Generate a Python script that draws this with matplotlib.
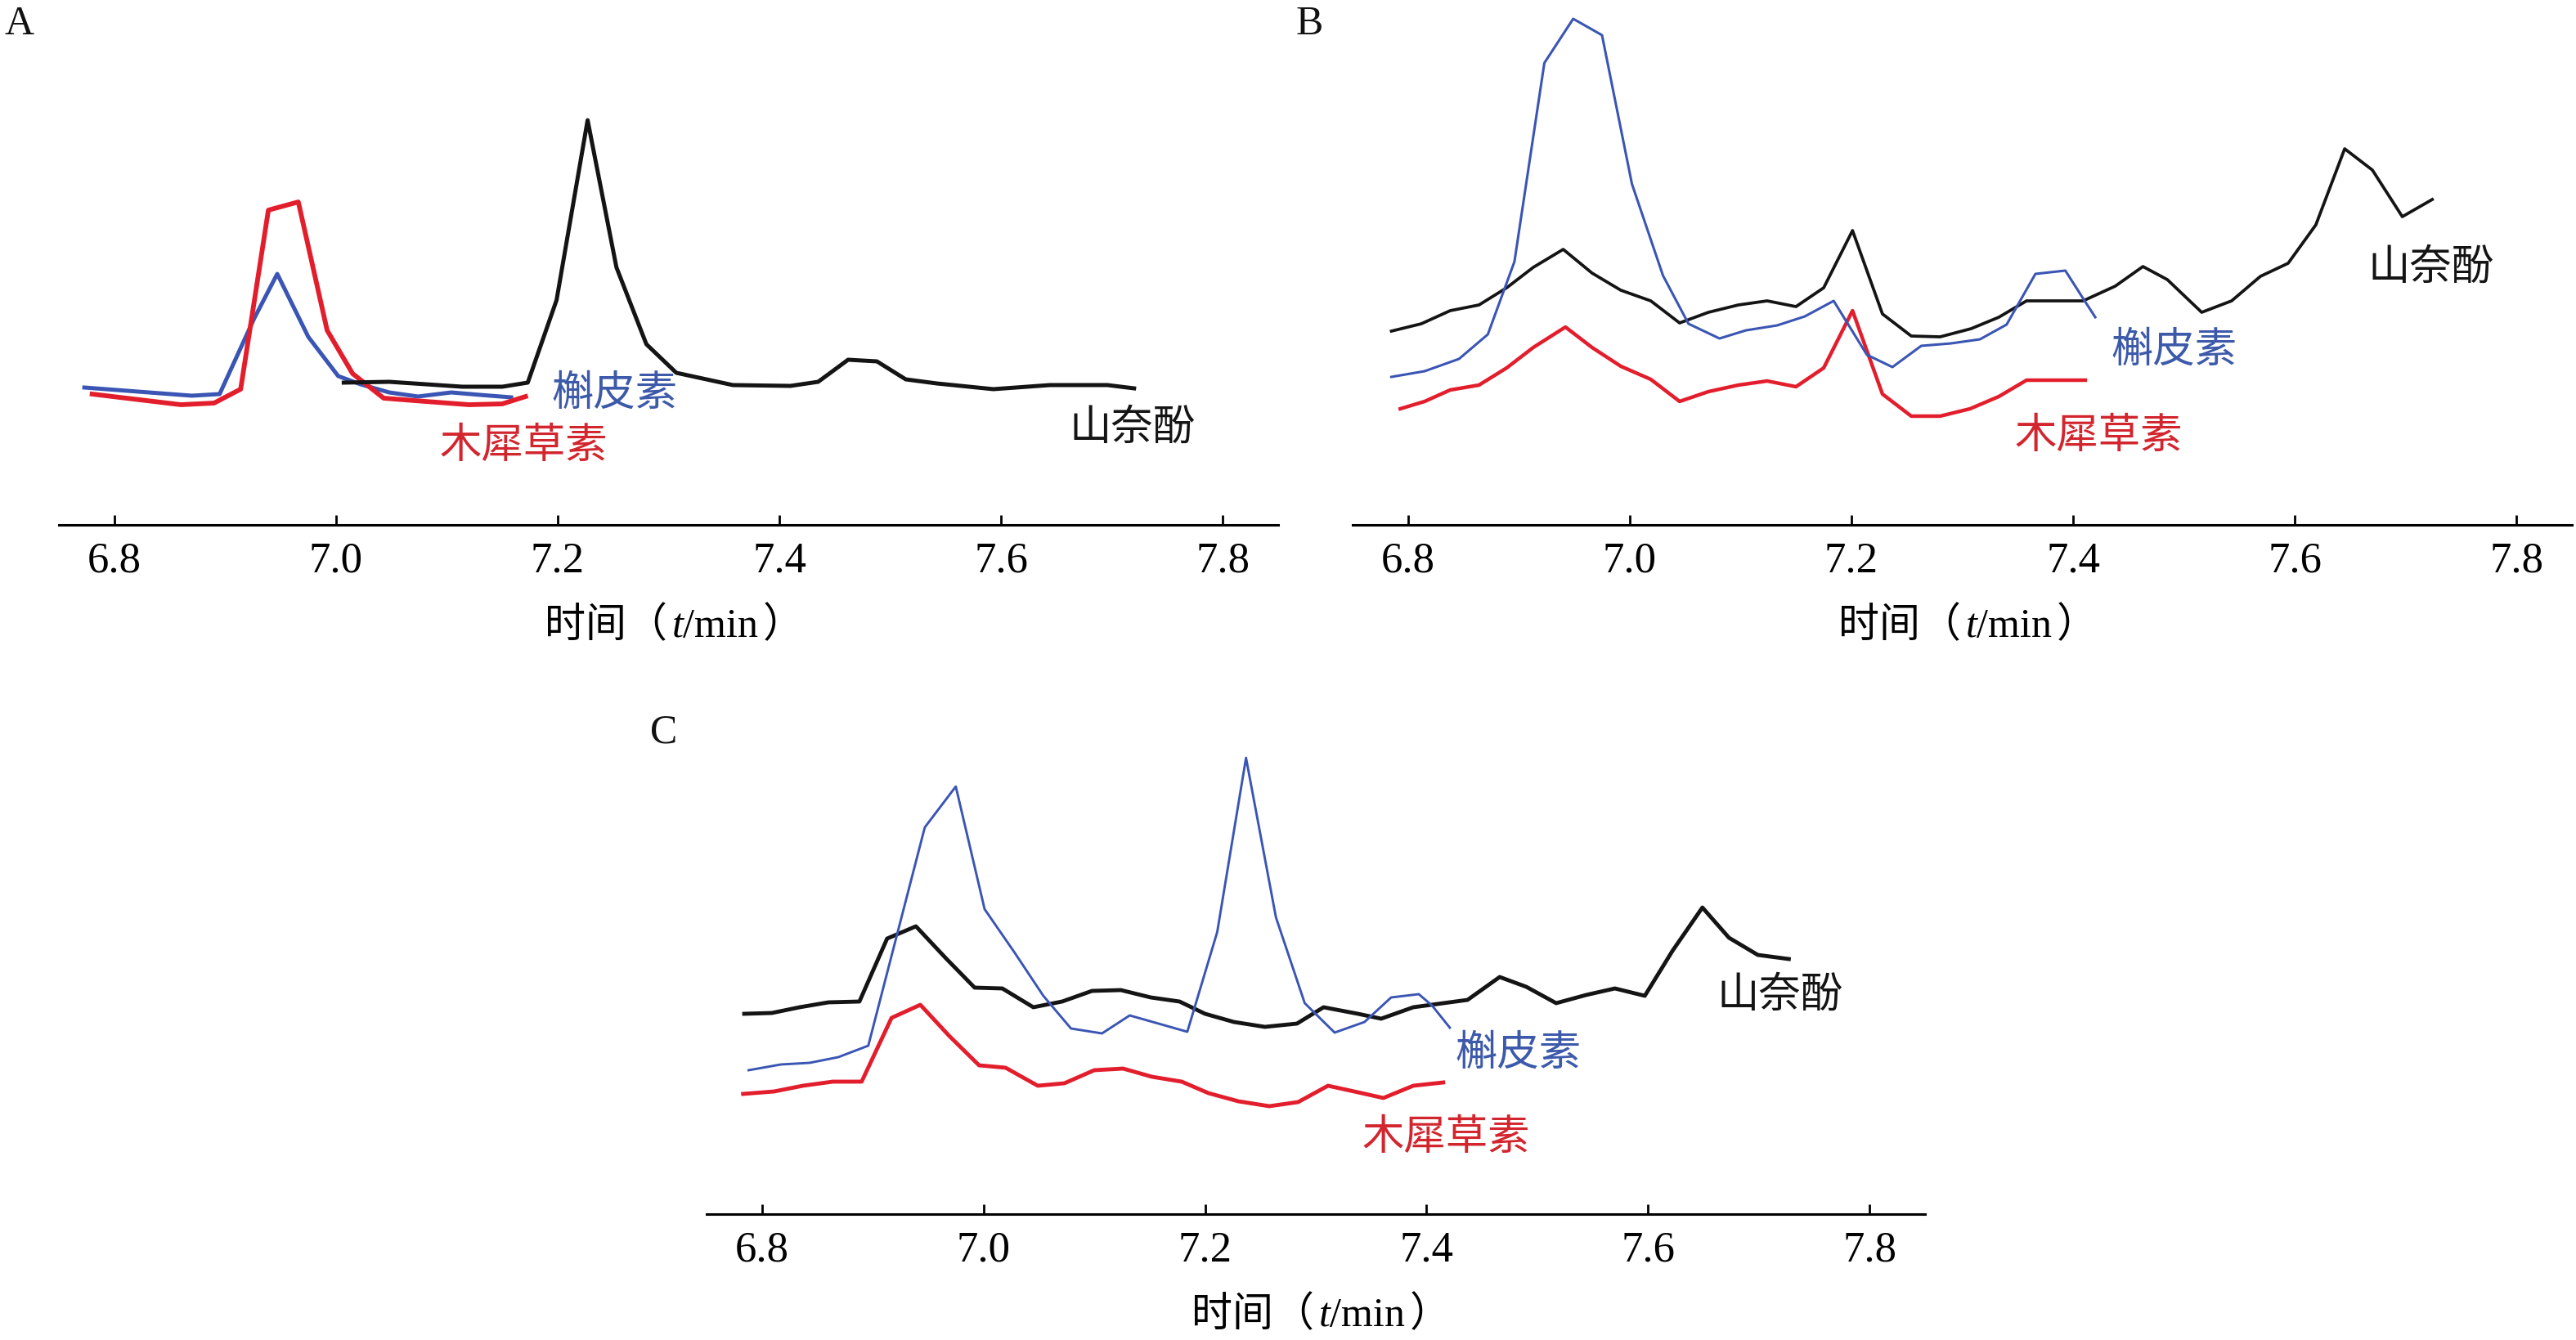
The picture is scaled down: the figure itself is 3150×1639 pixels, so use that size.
import matplotlib
matplotlib.use("Agg")
import matplotlib.pyplot as plt

plt.rcParams['font.family'] = ['Liberation Serif', 'Noto Sans CJK SC']
plt.rcParams['mathtext.fontset'] = 'custom'
plt.rcParams['mathtext.rm'] = 'Liberation Serif'
plt.rcParams['mathtext.it'] = 'Liberation Serif:italic'

# ---- data (retention time in min, signal in arbitrary units) ----
xticks = [6.8, 7.0, 7.2, 7.4, 7.6, 7.8]

# panel A
a_blue_t = [6.773, 6.870, 6.895, 6.926, 6.947, 6.975, 7.002, 7.022, 7.048, 7.074, 7.104, 7.130, 7.158]
a_blue_y = [168, 158, 160, 252, 307, 230, 182, 172, 162, 157, 162, 159, 156]
a_red_t = [6.780, 6.860, 6.890, 6.914, 6.939, 6.966, 6.992, 7.015, 7.043, 7.071, 7.120, 7.150, 7.171]
a_red_y = [160, 147, 149, 166, 385, 395, 238, 185, 155, 152, 147, 148, 157]
a_black_t = [7.007, 7.048, 7.114, 7.150, 7.173, 7.199, 7.227, 7.253, 7.280, 7.307, 7.358,
             7.410, 7.435, 7.462, 7.488, 7.514, 7.542, 7.593, 7.644, 7.696, 7.720]
a_black_y = [174, 175, 169, 169, 174, 275, 495, 315, 221, 186, 171,
             170, 175, 202, 200, 178, 173, 166, 171, 171, 167]

# panel B
b_black_t = [6.785, 6.812, 6.838, 6.864, 6.889, 6.913, 6.940, 6.966, 6.992, 7.019, 7.045, 7.071,
             7.098, 7.124, 7.150, 7.175, 7.201, 7.228, 7.254, 7.280, 7.308, 7.333, 7.358, 7.409,
             7.438, 7.463, 7.485, 7.516, 7.543, 7.569, 7.594, 7.619, 7.645, 7.670, 7.697, 7.724]
b_black_y = [237, 246, 262, 269, 290, 315, 337, 308, 287, 274, 247, 260,
             269, 274, 267, 290, 360, 258, 231, 230, 240, 254, 274, 274,
             292, 316, 300, 260, 274, 304, 320, 367, 460, 434, 377, 398]
b_blue_t = [6.785, 6.815, 6.846, 6.872, 6.896, 6.923, 6.949, 6.975, 7.002, 7.030, 7.053, 7.081, 7.105,
            7.133, 7.158, 7.184, 7.214, 7.237, 7.263, 7.290, 7.316, 7.340, 7.366, 7.393, 7.409, 7.420]
b_blue_y = [181, 188, 203, 233, 322, 565, 619, 599, 417, 305, 246, 228, 238,
            244, 255, 274, 208, 193, 219, 222, 227, 245, 307, 311, 277, 254]
b_red_t = [6.793, 6.815, 6.838, 6.864, 6.889, 6.913, 6.942, 6.966, 6.992, 7.019, 7.045, 7.071,
           7.098, 7.124, 7.150, 7.175, 7.201, 7.228, 7.254, 7.280, 7.307, 7.333, 7.358, 7.411]
b_red_y = [142, 151, 165, 171, 192, 217, 242, 217, 194, 178, 151, 163,
           171, 176, 169, 192, 262, 160, 133, 133, 142, 157, 177, 177]

# panel C
c_black_t = [6.784, 6.809, 6.834, 6.860, 6.888, 6.913, 6.939, 6.966, 6.992, 7.017, 7.045, 7.071,
             7.098, 7.124, 7.151, 7.177, 7.200, 7.226, 7.254, 7.283, 7.307, 7.338, 7.359, 7.388,
             7.437, 7.466, 7.490, 7.517, 7.544, 7.570, 7.597, 7.622, 7.649, 7.673, 7.699, 7.727]
c_black_y = [245, 246, 253, 259, 260, 337, 352, 313, 277, 276, 253, 260,
             273, 274, 265, 260, 245, 235, 229, 233, 253, 245, 239, 253,
             262, 290, 278, 258, 268, 276, 267, 322, 375, 338, 317, 312]
c_blue_t = [6.788, 6.817, 6.843, 6.869, 6.896, 6.947, 6.975, 7.001, 7.028, 7.054, 7.079, 7.107, 7.132,
            7.158, 7.184, 7.211, 7.237, 7.264, 7.290, 7.317, 7.344, 7.368, 7.393, 7.405, 7.421]
c_blue_y = [176, 183, 185, 192, 206, 473, 523, 373, 320, 267, 227, 221, 243,
            233, 223, 345, 558, 363, 258, 222, 235, 265, 269, 255, 228]
c_red_t = [6.783, 6.811, 6.837, 6.864, 6.890, 6.917, 6.943, 6.969, 6.996, 7.020, 7.049, 7.073,
           7.100, 7.126, 7.152, 7.179, 7.203, 7.230, 7.258, 7.284, 7.311, 7.338, 7.361, 7.388, 7.415]
c_red_y = [147, 150, 157, 162, 162, 240, 256, 218, 182, 179, 157, 160,
           176, 178, 168, 162, 148, 138, 132, 137, 157, 149, 142, 157, 161]

names = ['山奈酚', '槲皮素', '木犀草素']

BLACK = '#141414'
BLUE = '#3a55b4'
RED = '#e31e2c'
BLUE_TXT = '#3d5aaa'
RED_TXT = '#d2252e'

W, H = 3150, 1639
fig = plt.figure(figsize=(W / 100, H / 100), dpi=100)


def add_panel(left, right, axis_y, top):
    ax = fig.add_axes([left / W, 1 - axis_y / H, (right - left) / W, (axis_y - top) / H])
    ax.set_xlim(6.75, 7.85)
    ax.set_ylim(0, axis_y - top)
    for s in ['left', 'right', 'top']:
        ax.spines[s].set_visible(False)
    ax.spines['bottom'].set_linewidth(2.2)
    ax.set_yticks([])
    ax.set_xticks(xticks)
    ax.set_xticklabels(['%.1f' % v for v in xticks])
    ax.tick_params(axis='x', direction='in', length=8.5, width=2.0, labelsize=38, pad=15)
    ax.set_xlabel('时间（$\\,t\\mathrm{/min}\\,$）', fontsize=36, family='Noto Sans CJK SC')
    ax.xaxis.set_label_coords(0.493, -0.152)
    ax.patch.set_alpha(0)
    return ax


def label(ax, x, y, s, color):
    ax.text(x, y, s, color=color, fontsize=37, family='Noto Sans CJK SC',
            ha='center', va='center')


# A
ax = add_panel(72, 1563, 642, 0)
ax.plot(a_blue_t, a_blue_y, color=BLUE, lw=3.6, clip_on=False)
ax.plot(a_red_t, a_red_y, color=RED, lw=4.2, clip_on=False)
ax.plot(a_black_t, a_black_y, color=BLACK, lw=3.6, clip_on=False)
label(ax, 7.251, 161, names[1], BLUE_TXT)
label(ax, 7.169, 97, names[2], RED_TXT)
label(ax, 7.718, 119, names[0], BLACK)

# B
ax = add_panel(1654, 3145, 642, 0)
ax.plot(b_black_t, b_black_y, color=BLACK, lw=2.7, clip_on=False)
ax.plot(b_red_t, b_red_y, color=RED, lw=3.2, clip_on=False)
ax.plot(b_blue_t, b_blue_y, color=BLUE, lw=2.2, clip_on=False)
label(ax, 7.723, 315, names[0], BLACK)
label(ax, 7.491, 214, names[1], BLUE_TXT)
label(ax, 7.423, 109, names[2], RED_TXT)

# C
ax = add_panel(864, 2354, 1485, 843)
ax.plot(c_black_t, c_black_y, color=BLACK, lw=3.5, clip_on=False)
ax.plot(c_red_t, c_red_y, color=RED, lw=3.5, clip_on=False)
ax.plot(c_blue_t, c_blue_y, color=BLUE, lw=2.1, clip_on=False)
label(ax, 7.719, 268, names[0], BLACK)
label(ax, 7.483, 197, names[1], BLUE_TXT)
label(ax, 7.418, 94, names[2], RED_TXT)

# panel letters
for s, px, py in [('A', 5, 30), ('B', 1585, 30), ('C', 795, 896)]:
    fig.text(px / W, 1 - py / H, s, fontsize=36, ha='left', va='center',
             family='Liberation Serif', color='#111111')

fig.savefig('out.png', dpi=100)
